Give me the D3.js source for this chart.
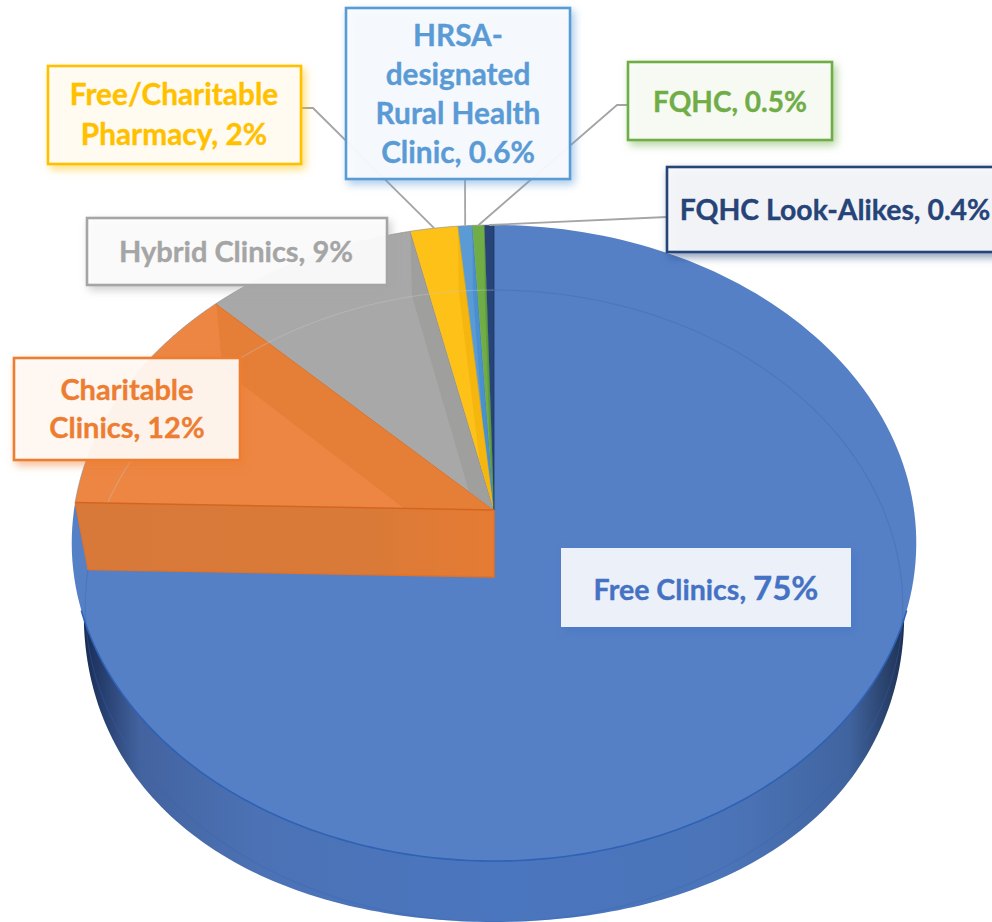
<!DOCTYPE html>
<html><head><meta charset="utf-8">
<script src="https://cdnjs.cloudflare.com/ajax/libs/d3/7.8.5/d3.min.js"></script>
<style>html,body{margin:0;background:#fff}svg{display:block}text{font-family:Lato,"Open Sans",sans-serif;font-weight:700}</style>
</head><body>
<svg id="c" width="992" height="922"></svg>
<script>
// ---- data ----
const categories = ["Free Clinics","Charitable Clinics","Hybrid Clinics","Free/Charitable Pharmacy","HRSA-designated Rural Health Clinic","FQHC","FQHC Look-Alikes"];
const values = [75,12,9,2,0.6,0.5,0.4];
const valueLabels = ["75%","12%","9%","2%","0.6%","0.5%","0.4%"];
const labelLines = [["Free Clinics, "],["Charitable","Clinics, 12%"],["Hybrid Clinics, 9%"],["Free/Charitable","Pharmacy, 2%"],["HRSA-","designated","Rural Health","Clinic, 0.6%"],["FQHC, 0.5%"],["FQHC Look-Alikes, 0.4%"]];
// ---- styles and layout ----
const colors = ["#5580c6","#ec8642","#a8a8a8","#fdc117","#5b9bd5","#70ad47","#264478"];
const bandColors = [null,"#e57e37","#9f9f9d","#f5b60f","#4a8fd0","#5f9f3c","#203864"];
const borders = ["#4472c4","#ed7d31","#a5a5a5","#ffc000","#5b9bd5","#70ad47","#264478"];
const textCol = ["#4472c4","#ed7d31","#a5a5a5","#ffc000","#5b9bd5","#70ad47","#264478"];
const fontSizes = [28.6,29,29,29.8,29.8,28,28.4];
const boxes = [
 {x:561,y:548,w:290,h:79,cx:706,cy:590,lh:0},
 {x:14,y:358,w:226,h:102,cx:127,cy:409,lh:38},
 {x:87,y:218,w:300,h:67,cx:236,cy:252,lh:0},
 {x:48,y:66,w:253,h:98,cx:174,cy:115,lh:40},
 {x:346,y:8,w:224,h:171,cx:458,cy:94,lh:39},
 {x:628,y:62,w:204,h:78,cx:730,cy:102,lh:0},
 {x:667,y:167,w:340,h:85,cx:835,cy:210,lh:0}
];
const leaders = [null,null,null,
 {from:[301,108],elbow:[313,108]},
 {from:[465,179],elbow:[465,179]},
 {from:[628,105],elbow:[617,105]},
 {from:[667,217],elbow:[667,217]}];
// perspective model of the two pie faces
const topFace = {ax:494,ay:510,B:420,A:314.6,p:0.1038};
const botFace = {ax:494,ay:577,B:407,A:313.3,p:0.0918};
const sideFace = {ax:494,ay:577,B:408,A:313.3,p:0.0918,bulge:0.028};
const unitX = f => d3.scaleLinear().domain([0,1]).range([f.ax,f.ax+f.B]);
const unitY = f => d3.scaleLinear().domain([0,1]).range([f.ay,f.ay-f.A]);
function proj(f,a){
  const k=f.bulge?1+f.bulge*Math.sin(2*a)**2:1;
  const X=k*Math.sin(a),Z=k*Math.cos(a),w=1+f.p*Z;
  return [unitX(f)(X/w),unitY(f)(Z/w)];
}
const line = d3.line();
function arcPts(f,a0,a1){return d3.range(0,181).map(i=>proj(f,a0+(a1-a0)*i/180));}
const sectorPath = (f,a0,a1)=>line([[f.ax,f.ay],...arcPts(f,a0,a1)])+"Z";
const slices = d3.pie().sort(null).value(d=>d)(values);

const svg = d3.select("#c");
const defs = svg.append("defs");
const grad = defs.append("linearGradient").attr("id","side").attr("gradientUnits","userSpaceOnUse")
  .attr("x1",72).attr("x2",917).attr("y1",0).attr("y2",0);
[[0,"#101e3c"],[.025,"#1f3562"],[.08,"#43639f"],[.22,"#4c72b5"],[.5,"#4a76bf"],[.78,"#4b74b8"],[.92,"#40649f"],[.975,"#24395f"],[1,"#101e3c"]]
  .forEach(s=>grad.append("stop").attr("offset",s[0]).attr("stop-color",s[1]));
const wallGrad = defs.append("linearGradient").attr("id","wall").attr("gradientUnits","userSpaceOnUse")
  .attr("x1",76).attr("x2",494).attr("y1",0).attr("y2",0);
[[0,"#d8793a"],[.7,"#d97a38"],[1,"#e67b33"]].forEach(s=>wallGrad.append("stop").attr("offset",s[0]).attr("stop-color",s[1]));

const TAU=Math.PI*2;
// side wall / bottom outline
svg.append("path").attr("d",line(arcPts(sideFace,Math.PI*.5,Math.PI*1.5))+"Z").attr("fill","url(#side)");
// main top sector
svg.append("path").attr("d",sectorPath(topFace,slices[0].startAngle,slices[0].endAngle)).attr("fill",colors[0]);
// other sectors with their back walls
slices.forEach((s,i)=>{
  if(i===0) return;
  const d=sectorPath(topFace,s.startAngle,s.endAngle);
  defs.append("clipPath").attr("id","clip"+i).append("path").attr("d",d);
  svg.append("path").attr("d",d).attr("fill",colors[i]);
  const t=proj(topFace,s.endAngle),b=proj(botFace,s.endAngle);
  const band=line([[topFace.ax,topFace.ay],t,b,[botFace.ax,botFace.ay]])+"Z";
  svg.append("path").attr("d",band).attr("fill",bandColors[i]).attr("clip-path",`url(#clip${i})`);
  svg.append("path").attr("d",line([[topFace.ax,topFace.ay],t])).attr("fill","none").attr("stroke",d3.color(colors[i]).darker(.6)).attr("stroke-opacity",.7).attr("stroke-width",1.2);
});
// ghost of the far face: blue over the main slice, neutral over the others
svg.append("path").attr("d",line(arcPts(botFace,0,slices[0].endAngle))).attr("fill","none").attr("stroke","#3763b0").attr("stroke-opacity",.32).attr("stroke-width",1.2);
svg.append("path").attr("d",line(arcPts(botFace,slices[0].endAngle,TAU))).attr("fill","none").attr("stroke","#c8c8c8").attr("stroke-opacity",.35).attr("stroke-width",1.2);
// wall between the main slice and the orange slice
const a=slices[0].endAngle,p0=proj(topFace,a),p1=proj(botFace,a);
svg.append("path").attr("d",line([p0,[topFace.ax,topFace.ay],[botFace.ax,botFace.ay],p1])+"Z").attr("fill","url(#wall)");
svg.append("path").attr("d",line([p0,[topFace.ax,topFace.ay]])).attr("fill","none").attr("stroke","#d4651f").attr("stroke-width",1.4);
svg.append("path").attr("d",line([p1,[botFace.ax,botFace.ay],[topFace.ax,topFace.ay]])).attr("fill","none").attr("stroke","#e8701f").attr("stroke-width",1.4);
svg.append("path").attr("d",line([p0,p1])).attr("fill","none").attr("stroke","#e8701f").attr("stroke-width",1);
// near rim and back rim
svg.append("path").attr("d",line(arcPts(topFace,Math.PI*.6,Math.PI*1.4))).attr("fill","none").attr("stroke","#2f62b4").attr("stroke-width",1.6);
svg.append("path").attr("d",line(arcPts(topFace,slices[0].endAngle,TAU))).attr("fill","none").attr("stroke","#8a8a8a").attr("stroke-opacity",.6).attr("stroke-width",1);
// leaders, ending on each slice's rim
leaders.forEach((l,i)=>{
  if(!l) return;
  const s=slices[i],m=proj(topFace,(s.startAngle+s.endAngle)/2);
  svg.append("path").attr("d",line([l.from,l.elbow,m])).attr("fill","none").attr("stroke","#a5a5a5").attr("stroke-width",1.8);
});
// label boxes
boxes.forEach((b,i)=>{
  const g=svg.append("g");
  g.append("rect").attr("x",b.x).attr("y",b.y).attr("width",b.w).attr("height",b.h)
    .attr("fill",i===0?"#ecf0f8":d3.interpolateRgb("#fff",borders[i])(.025)).attr("fill-opacity",i===0?1:.93)
    .attr("stroke",borders[i]).attr("stroke-width",i===0?0:2.6)
    .style("filter",`drop-shadow(3px 4px 4px ${d3.color(borders[i]).copy({opacity:.55})})`);
  const lines=labelLines[i],n=lines.length;
  const t=g.append("text").attr("text-anchor","middle").attr("fill",textCol[i]).attr("font-size",fontSizes[i])
    .attr("stroke",textCol[i]).attr("stroke-width",.35);
  lines.forEach((s,k)=>{
    t.append("tspan").attr("x",b.cx).attr("y",b.cy+(k-(n-1)/2)*b.lh+10).text(s);
    if(i===0) t.append("tspan").attr("font-size",33).text(valueLabels[0]);
  });
});
</script>
</body></html>
